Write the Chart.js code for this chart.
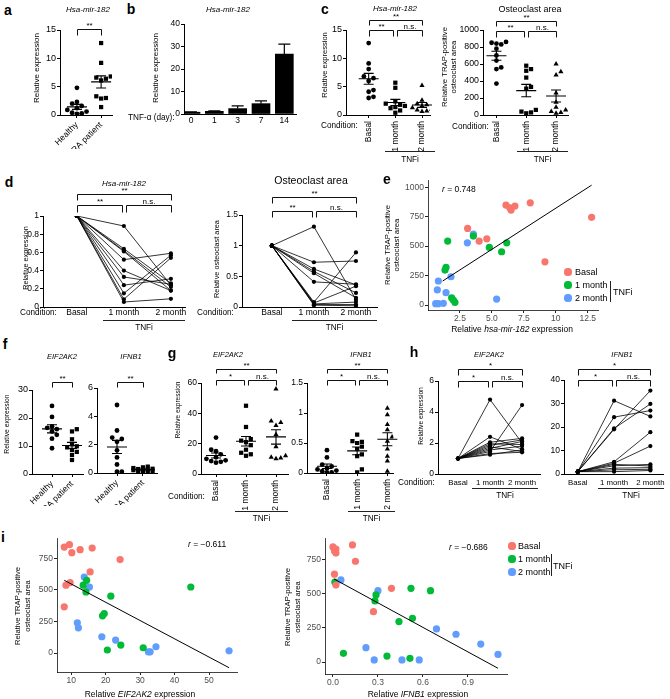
<!DOCTYPE html>
<html>
<head>
<meta charset="utf-8">
<title>miR-182 / TNFi figure</title>
<script src="https://cdn.jsdelivr.net/npm/chart.js@4.4.1/dist/chart.umd.min.js"></script>
<style>
  body { margin: 0; width: 670px; height: 699px; position: relative; overflow: hidden; background: #fff;
         font-family: "Liberation Sans", Arial, sans-serif; color: #000; }
  canvas { position: absolute; }
  .lbl { position: absolute; white-space: nowrap; line-height: 1; }
  .rule { position: absolute; background: #222; }
  .dot { position: absolute; border-radius: 50%; }
</style>
</head>
<body>
<script>
// ---------------- data ----------------

// a: Hsa-mir-182, healthy vs RA
const aGroups = ['Healthy', 'RA patient']
const aHealthy = [4.8, 2.3, 2.0, 1.6, 1.2, 0.9, 0.6, 0.4, 0.2, 0.3]
const aRA = [12.7, 9.2, 6.8, 6.6, 6.4, 6.1, 3.3, 3.0, 2.9, 1.4]

// b: TNF-alpha time course
const bDays = ['0', '1', '3', '7', '14']
const bMean = [0.8, 1.2, 2.4, 4.6, 26.6]
const bSem = [0.15, 0.25, 1.2, 1.2, 4.5]

// c: basal vs TNFi
const conditions = ['Basal', '1 month', '2 month']
const cMirBasal = [12.7, 9.1, 8.1, 6.8, 6.5, 6.0, 4.4, 4.1, 3.2, 3.0]
const cMir1m = [5.7, 4.8, 2.4, 2.0, 1.8, 1.6, 1.4, 1.2, 0.8, 0.4]
const cMir2m = [5.2, 2.6, 2.0, 1.8, 1.6, 1.3, 1.0, 0.9, 0.7, 0.6]
const cOcBasal = [860, 850, 840, 830, 780, 700, 640, 560, 540, 370]
const cOc1m = [580, 540, 520, 440, 330, 310, 60, 40, 30, 20]
const cOc2m = [600, 510, 470, 260, 150, 90, 60, 40, 30, 20]

// d: paired, normalised to basal = 1
const dMir1m = [0.89, 0.64, 0.62, 0.61, 0.52, 0.40, 0.33, 0.24, 0.15, 0.085, 0.055]
const dMir2m = [0.24, 0.26, 0.22, 0.18, 0.59, 0.18, 0.25, 0.31, 0.57, 0.54, 0.09]
const dOc1m = [1.31, 0.73, 0.62, 0.58, 0.55, 0.41, 0.08, 0.065, 0.05, 0.04, 0.03]
const dOc2m = [0.12, 0.75, 0.36, 0.23, 0.15, 0.37, 0.89, 0.34, 0.08, 0.04, 0.02]

// e: correlation miR-182 vs osteoclast area
const eBasalX = [6.1, 6.4, 6.5, 6.8, 8.0, 12.8, 3.1, 4.0, 4.6, 9.15]
const eBasalY = [848, 825, 806, 840, 867, 744, 650, 543, 562, 367]
const e1mX = [1.54, 3.55, 4.8, 6.16, 5.76, 1.41, 1.33, 1.85, 1.98, 2.11]
const e1mY = [543, 585, 489, 528, 452, 320, 297, 62, 43, 23]
const e2mX = [3.55, 3.08, 0.81, 1.8, 0.73, 1.41, 0.6, 0.8, 1.2, 5.37]
const e2mY = [602, 528, 204, 240, 128, 105, 12, 12, 15, 51]
const eFitX = [1.15, 12.8]
const eFitY = [204, 1017]

// f: healthy vs RA
const fEifHealthy = [24.3, 20.4, 17.0, 16.5, 16.0, 15.2, 14.0, 12.6, 9.2]
const fEifRA = [16.0, 15.2, 12.4, 10.6, 9.9, 9.5, 8.6, 7.9, 6.8, 5.0]
const fIfnHealthy = [4.8, 3.0, 2.5, 2.4, 2.2, 1.6, 1.1, 0.6, 0.1, 0.1]
const fIfnRA = [0.45, 0.4, 0.35, 0.3, 0.28, 0.25, 0.22, 0.2, 0.15, 0.12, 0.1, 0.08]

// g: basal vs TNFi
const gEifBasal = [24, 16, 15, 13, 11, 10, 9, 8.5, 8, 7.5]
const gEif1m = [45, 31, 23, 22, 21, 19, 16, 14, 13, 12]
const gEif2m = [56, 35, 34, 32, 26, 18, 12, 11, 10.5, 10]
const gIfnBasal = [0.38, 0.26, 0.14, 0.11, 0.08, 0.06, 0.04, 0.03, 0.01, 0.01]
const gIfn1m = [0.64, 0.53, 0.52, 0.50, 0.44, 0.40, 0.31, 0.28, 0.06, 0.01]
const gIfn2m = [1.08, 0.97, 0.81, 0.72, 0.6, 0.53, 0.4, 0.28, 0.2, 0.03]

// h: paired, basal = 1
const hEif1m = [4.8, 2.4, 2.05, 1.95, 1.85, 1.75, 1.65, 1.55, 1.45, 1.32, 1.25]
const hEif2m = [2.0, 1.6, 2.3, 1.9, 2.2, 1.45, 2.1, 1.8, 4.45, 1.4, 1.55]
const hIfn1m = [31.2, 24.2, 19.0, 19.4, 5.2, 4.6, 4.1, 3.5, 2.5, 1.8, 1.0]
const hIfn2m = [24.5, 27.0, 35.5, 29.8, 17.8, 11.9, 3.4, 4.1, 2.7, 2.0, 1.5]

// i: correlations with osteoclast area
const iEifBasalX = [8.0, 9.5, 10.2, 12.6, 16.1, 24.2, 15.5, 8.5, 9.7, 8.0]
const iEifBasalY = [839, 858, 795, 818, 831, 740, 642, 537, 558, 366]
const iEif1mX = [13.5, 14.5, 14.3, 21.5, 19.1, 19.6, 20.5, 24.4, 30.9, 44.7]
const iEif1mY = [537, 576, 484, 450, 295, 313, 24, 63, 42, 523]
const iEif2mX = [13.8, 15.3, 11.8, 12.1, 18.9, 22.9, 32.4, 32.9, 34.6, 55.8]
const iEif2mY = [602, 523, 239, 200, 129, 103, 10, 10, 50, 18]
const iEifFitX = [8.0, 55.8]
const iEifFitY = [576, -116]

const iIfnBasalX = [0.0, 0.02, 0.01, 0.02, 0.13, 0.15, 0.01, 0.02, 0.39, 0.27]
const iIfnBasalY = [845, 830, 815, 800, 860, 740, 645, 565, 541, 370]
const iIfn1mX = [0.013, 0.52, 0.65, 0.287, 0.28, 0.44, 0.53, 0.07, 0.36, 0.513]
const iIfn1mY = [586, 541, 524, 493, 449, 297, 321, 64, 44, 27]
const iIfn2mX = [0.053, 0.30, 0.69, 0.82, 0.985, 1.1, 0.22, 0.275, 0.46, 0.575]
const iIfn2mY = [603, 524, 243, 204, 132, 56, 105, 15, 15, 15]
const iIfnFitX = [0.007, 1.1]
const iIfnFitY = [610, -46]

// ---------------- setup ----------------
const FONT = '"Liberation Sans", Arial, sans-serif'
Chart.defaults.font.family = FONT
Chart.defaults.font.size = 8.5
Chart.defaults.color = '#000'

const RED = '#F8766D', GREEN = '#00BA38', BLUE = '#619CFF'
const fmt = v => String(Math.round(v * 1000) / 1000)

// simple beeswarm: horizontal offsets so dots with close values don't sit on top of each other
function swarm(vals, pxY, pxX, d, maxOff) {
  const off = vals.map(() => 0), placed = []
  const order = vals.map((v, i) => i).sort((p, q) => vals[p] - vals[q])
  const steps = [0]
  for (let k = 1; k * d <= maxOff + 0.01; k++) steps.push(k * d, -k * d)
  for (const i of order) {
    const py = vals[i] * pxY
    let best = 0, bestDist = -1
    for (const sx of steps) {
      let m = Infinity
      for (const p of placed) m = Math.min(m, Math.hypot(p[0] - sx, p[1] - py))
      if (m >= d) { best = sx; break }
      if (m > bestDist) { bestDist = m; best = sx }
    }
    placed.push([best, py])
    off[i] = best / pxX
  }
  return off
}

function prismY(min, max, step, size) {
  return {
    type: 'linear', min, max,
    ticks: { stepSize: step, padding: 1, callback: fmt, font: { size: size || 8.5 } },
    grid: { drawOnChartArea: false, tickLength: 3, color: '#000' },
    border: { color: '#000' }
  }
}

function catX(cats, min, max, rot, tick, pad, size) {
  return {
    type: 'linear', min, max, offset: false,
    afterBuildTicks: s => { s.ticks = cats.map((c, i) => ({ value: i })) },
    ticks: { autoSkip: false, minRotation: rot, maxRotation: rot, padding: pad, callback: v => cats[v], font: { size: size || 8.5 } },
    grid: { drawOnChartArea: false, drawTicks: tick > 0, tickLength: tick, color: '#000', offset: false },
    border: { color: '#000' }
  }
}

function gAxis(min, max, vals, labels) {
  return {
    type: 'linear', min, max,
    afterBuildTicks: s => { s.ticks = vals.map(v => ({ value: v })) },
    ticks: { padding: 1, color: '#4d4d4d', callback: v => labels[vals.indexOf(v)] },
    grid: { drawOnChartArea: false, tickLength: 3, color: '#222' },
    border: { color: '#111', width: 0.8 }
  }
}

function dotSets(groups, styles, box, xr, yr) {
  const pxX = (box[2] - box[0]) / (xr[1] - xr[0]), pxY = (box[3] - box[1]) / (yr[1] - yr[0])
  return groups.map((vals, gi) => {
    const off = swarm(vals, pxY, pxX, 4.8, 10)
    return {
      data: vals.map((v, k) => ({ x: gi + off[k], y: v })),
      pointStyle: styles[gi], pointRadius: styles[gi] === 'circle' ? 2.4 : 3,
      backgroundColor: '#000', borderWidth: 0
    }
  })
}

function pairSets(m1, m2) {
  return m1.map((v, k) => ({
    data: [{ x: 0, y: 1 }, { x: 1, y: v }, { x: 2, y: m2[k] }],
    showLine: true, borderColor: '#000', borderWidth: 0.8,
    pointRadius: 2.1, backgroundColor: '#000', pointBorderWidth: 0
  }))
}

function groupSet(xs, ys, color) {
  return { data: xs.map((x, k) => ({ x, y: ys[k] })), backgroundColor: color, pointRadius: 3.6, borderWidth: 0 }
}

function fitSet(xs, ys) {
  return { data: xs.map((x, k) => ({ x, y: ys[k] })), showLine: true, borderColor: '#000', borderWidth: 1, pointRadius: 0 }
}

// significance brackets, y in page pixels
function bracketPlugin(items, ct) {
  return {
    id: 'brackets',
    afterDraw(chart) {
      const ctx = chart.ctx, xs = chart.scales.x
      ctx.save()
      ctx.strokeStyle = '#111'; ctx.lineWidth = 1; ctx.fillStyle = '#000'
      ctx.font = '8px ' + FONT; ctx.textAlign = 'center'; ctx.textBaseline = 'alphabetic'
      for (const it of items) {
        const xa = Math.round(xs.getPixelForValue(it.from) + (it.ia || 0)) + 0.5
        const xb = Math.round(xs.getPixelForValue(it.to) + (it.ib || 0)) + 0.5
        const y = Math.round(it.y - ct) + 0.5, y2 = y + (it.leg || 6)
        ctx.beginPath(); ctx.moveTo(xa, y2); ctx.lineTo(xa, y); ctx.lineTo(xb, y); ctx.lineTo(xb, y2); ctx.stroke()
        ctx.fillText(it.text, (xa + xb) / 2, y - 2)
      }
      ctx.restore()
    }
  }
}

// mean +/- SEM for dot plots
function semPlugin(groups, half, cap) {
  return {
    id: 'sem',
    afterDatasetsDraw(chart) {
      const ctx = chart.ctx, xs = chart.scales.x, ys = chart.scales.y
      ctx.save(); ctx.strokeStyle = '#000'; ctx.lineWidth = 1.1
      groups.forEach((vals, i) => {
        const n = vals.length, m = vals.reduce((s, v) => s + v, 0) / n
        const se = Math.sqrt(vals.reduce((s, v) => s + (v - m) ** 2, 0) / (n - 1)) / Math.sqrt(n)
        const x = xs.getPixelForValue(i)
        const ym = ys.getPixelForValue(m), yt = ys.getPixelForValue(m + se), yb = ys.getPixelForValue(m - se)
        ctx.beginPath()
        ctx.moveTo(x - half, ym); ctx.lineTo(x + half, ym)
        ctx.moveTo(x, yb); ctx.lineTo(x, yt)
        ctx.moveTo(x - cap, yt); ctx.lineTo(x + cap, yt)
        ctx.moveTo(x - cap, yb); ctx.lineTo(x + cap, yb)
        ctx.stroke()
      })
      ctx.restore()
    }
  }
}

// upper error bars for the bar chart
function errPlugin(means, errs) {
  return {
    id: 'err',
    afterDatasetsDraw(chart) {
      const ctx = chart.ctx, xs = chart.scales.x, ys = chart.scales.y
      ctx.save(); ctx.strokeStyle = '#000'; ctx.lineWidth = 1.2
      means.forEach((m, i) => {
        const x = xs.getPixelForValue(i), y0 = ys.getPixelForValue(m), y1 = ys.getPixelForValue(m + errs[i])
        ctx.beginPath(); ctx.moveTo(x, y0); ctx.lineTo(x, y1); ctx.moveTo(x - 6, y1); ctx.lineTo(x + 6, y1); ctx.stroke()
      })
      ctx.restore()
    }
  }
}

// one canvas per plot; box = chart area in page pixels
function panel(p) {
  const pad = Object.assign({ top: 14, right: 10, bottom: 3, left: 0 }, p.pad || {})
  const [l, t, r, b] = p.box
  const cl = l - p.yw - pad.left, ct = t - pad.top
  const w = Math.round(r + pad.right - cl), h = Math.round(b + p.xh + pad.bottom - ct)
  const cv = document.createElement('canvas')
  cv.width = w; cv.height = h
  cv.style.left = cl + 'px'; cv.style.top = ct + 'px'
  cv.style.width = w + 'px'; cv.style.height = h + 'px'
  document.body.appendChild(cv)
  p.x.afterFit = s => { s.height = p.xh }
  p.y.afterFit = s => { s.width = p.yw }
  const plugins = (p.plugins || []).slice()
  if (p.brackets) plugins.push(bracketPlugin(p.brackets, ct))
  return new Chart(cv, {
    type: p.type || 'scatter',
    data: { datasets: p.datasets },
    options: {
      responsive: false, animation: false, devicePixelRatio: 1,
      layout: { padding: pad },
      plugins: { legend: { display: false }, tooltip: { enabled: false } },
      scales: { x: p.x, y: p.y }
    },
    plugins
  })
}

function text(s, x, y, size, style, anchor) {
  const d = document.createElement('div')
  d.className = 'lbl'
  d.innerHTML = s
  d.style.left = x + 'px'; d.style.top = y + 'px'; d.style.fontSize = size + 'px'
  if (style) d.style.cssText += style
  d.style.transform = anchor === 'left' ? 'translate(0,-50%)' : 'translate(-50%,-50%)'
  document.body.appendChild(d)
}
function yTitle(lines, x, y, size, gap) {
  const d = document.createElement('div')
  d.className = 'lbl'
  d.innerHTML = lines.join('<br>')
  d.style.cssText += `left:${x}px;top:${y}px;font-size:${size}px;line-height:${gap}px;text-align:center;transform:translate(-50%,-50%) rotate(-90deg)`
  document.body.appendChild(d)
}
function rule(x, y, w, h) {
  const d = document.createElement('div')
  d.className = 'rule'
  d.style.cssText += `left:${x}px;top:${y}px;width:${w}px;height:${h}px`
  document.body.appendChild(d)
}
function dot(x, y, r, color) {
  const d = document.createElement('div')
  d.className = 'dot'
  d.style.cssText += `left:${x - r}px;top:${y - r}px;width:${2 * r}px;height:${2 * r}px;background:${color}`
  document.body.appendChild(d)
}

// ---------------- panels ----------------
const SHAPES = ['circle', 'rect', 'triangle']

// a
{
  const box = [60, 30, 112, 115], xr = [-0.7, 1.45], yr = [0, 15]
  const groups = [aHealthy, aRA]
  panel({
    box, yw: 26, xh: 34, pad: { top: 10, right: 6 },
    x: catX(aGroups, xr[0], xr[1], 45, 3, 2), y: prismY(0, 15, 5, 9),
    datasets: dotSets(groups, ['circle', 'rect'], box, xr, yr),
    plugins: [semPlugin(groups, 10, 5)],
    brackets: [{ from: 0, to: 1, y: 29, leg: 6, text: '**' }]
  })
}

// b
panel({
  box: [184, 24, 296, 114], yw: 24, xh: 14, pad: { top: 8, right: 6 }, type: 'bar',
  x: catX(bDays, -0.3, 4.5, 0, 0, 2),
  y: prismY(0, 40, 10),
  datasets: [{ data: bMean.map((v, i) => ({ x: i, y: v })), backgroundColor: '#000', barThickness: 18, borderWidth: 0 }],
  plugins: [errPlugin(bMean, bSem)]
})

// c left
{
  const box = [346, 30, 430, 115], xr = [-0.85, 2.3], yr = [0, 15]
  const groups = [cMirBasal, cMir1m, cMir2m]
  panel({
    box, yw: 24, xh: 38, pad: { top: 18, right: 8 },
    x: catX(conditions, xr[0], xr[1], 90, 3, 3), y: prismY(0, 15, 5, 9),
    datasets: dotSets(groups, SHAPES, box, xr, yr),
    plugins: [semPlugin(groups, 10, 5)],
    brackets: [
      { from: 0, to: 2, y: 20, leg: 5, text: '**' },
      { from: 0, to: 1, y: 30, leg: 6, text: '**', ib: -2 },
      { from: 1, to: 2, y: 30, leg: 6, text: 'n.s.', ia: 2 }
    ]
  })
}

// c right
{
  const box = [483, 30, 568, 115], xr = [-0.45, 2.4], yr = [0, 1000]
  const groups = [cOcBasal, cOc1m, cOc2m]
  panel({
    box, yw: 26, xh: 38, pad: { top: 18, right: 6 },
    x: catX(conditions, xr[0], xr[1], 90, 3, 3), y: prismY(0, 1000, 200, 8.8),
    datasets: dotSets(groups, SHAPES, box, xr, yr),
    plugins: [semPlugin(groups, 10, 5)],
    brackets: [
      { from: 0, to: 2, y: 21, leg: 5, text: '**' },
      { from: 0, to: 1, y: 31, leg: 6, text: '**', ib: -2 },
      { from: 1, to: 2, y: 31, leg: 6, text: 'n.s.', ia: 2 }
    ]
  })
}

// d left
panel({
  box: [43, 216, 185, 307], yw: 22, xh: 14, pad: { top: 34, right: 8 },
  x: catX(conditions, -0.72, 2.3, 0, 0, 1), y: prismY(0, 1, 0.2),
  datasets: pairSets(dMir1m, dMir2m),
  brackets: [
    { from: 0, to: 2, y: 194, leg: 6, text: '**' },
    { from: 0, to: 1, y: 205, leg: 7, text: '**', ib: -2 },
    { from: 1, to: 2, y: 205, leg: 7, text: 'n.s.', ia: 2 }
  ]
})

// d right
panel({
  box: [242, 215, 377, 307], yw: 22, xh: 14, pad: { top: 30, right: 8 },
  x: catX(conditions, -0.71, 2.5, 0, 0, 1), y: prismY(0, 1.5, 0.5),
  datasets: pairSets(dOc1m, dOc2m),
  brackets: [
    { from: 0, to: 2, y: 197, leg: 6, text: '**' },
    { from: 0, to: 1, y: 211, leg: 6, text: '**', ib: -2 },
    { from: 1, to: 2, y: 211, leg: 6, text: 'n.s.', ia: 2 }
  ]
})

// e
panel({
  box: [428, 180, 598, 310], yw: 26, xh: 14, pad: { top: 6, right: 10 },
  x: gAxis(0, 13.3, [2.5, 5, 7.5, 10, 12.5], ['2.5', '5.0', '7.5', '10', '12.5']),
  y: gAxis(-42, 1060, [0, 250, 500, 750, 1000], ['0', '250', '500', '750', '1000']),
  datasets: [fitSet(eFitX, eFitY), groupSet(eBasalX, eBasalY, RED), groupSet(e1mX, e1mY, GREEN), groupSet(e2mX, e2mY, BLUE)]
})

// f left
{
  const box = [32, 390, 83, 474], xr = [-1.0, 1.55], yr = [0, 30]
  const groups = [fEifHealthy, fEifRA]
  panel({
    box, yw: 22, xh: 32, pad: { top: 14, right: 8 },
    x: catX(aGroups, xr[0], xr[1], 45, 3, 2), y: prismY(0, 30, 10, 9),
    datasets: dotSets(groups, ['circle', 'rect'], box, xr, yr),
    plugins: [semPlugin(groups, 10, 5)],
    brackets: [{ from: 0, to: 1, y: 382, leg: 5, text: '**' }]
  })
}

// f right
{
  const box = [97, 388, 157, 473], xr = [-0.77, 1.54], yr = [0, 6]
  const groups = [fIfnHealthy, fIfnRA]
  panel({
    box, yw: 16, xh: 32, pad: { top: 12, right: 8 },
    x: catX(aGroups, xr[0], xr[1], 45, 3, 2), y: prismY(0, 6, 2, 9),
    datasets: dotSets(groups, ['circle', 'rect'], box, xr, yr),
    plugins: [semPlugin(groups, 10, 5)],
    brackets: [{ from: 0, to: 1, y: 382, leg: 5, text: '**' }]
  })
}

// g left
{
  const box = [201, 383, 288, 474], xr = [-0.5, 2.4], yr = [0, 60]
  const groups = [gEifBasal, gEif1m, gEif2m]
  panel({
    box, yw: 20, xh: 38, pad: { top: 26, right: 6 },
    x: catX(conditions, xr[0], xr[1], 90, 3, 3), y: prismY(0, 60, 20),
    datasets: dotSets(groups, SHAPES, box, xr, yr),
    plugins: [semPlugin(groups, 10, 5)],
    brackets: [
      { from: 0, to: 2, y: 369, leg: 4, text: '**' },
      { from: 0, to: 1, y: 380, leg: 5, text: '*', ib: -2 },
      { from: 1, to: 2, y: 380, leg: 5, text: 'n.s.', ia: 2 }
    ]
  })
}

// g right
{
  const box = [307, 383, 395, 473], xr = [-0.66, 2.2], yr = [0, 1.5]
  const groups = [gIfnBasal, gIfn1m, gIfn2m]
  panel({
    box, yw: 20, xh: 38, pad: { top: 26, right: 6 },
    x: catX(conditions, xr[0], xr[1], 90, 3, 3), y: prismY(0, 1.5, 0.5),
    datasets: dotSets(groups, SHAPES, box, xr, yr),
    plugins: [semPlugin(groups, 10, 5)],
    brackets: [
      { from: 0, to: 2, y: 369, leg: 4, text: '**' },
      { from: 0, to: 1, y: 380, leg: 5, text: '*', ib: -2 },
      { from: 1, to: 2, y: 380, leg: 5, text: 'n.s.', ia: 2 }
    ]
  })
}

// h left
panel({
  box: [438, 381, 540, 474], yw: 20, xh: 14, pad: { top: 24, right: 6 },
  x: catX(conditions, -0.625, 2.56, 0, 0, 4, 7.8), y: prismY(0, 6, 2),
  datasets: pairSets(hEif1m, hEif2m),
  brackets: [
    { from: 0, to: 2, y: 369, leg: 6, text: '*' },
    { from: 0, to: 1, y: 381, leg: 6, text: '*', ib: -2 },
    { from: 1, to: 2, y: 381, leg: 6, text: 'n.s.', ia: 2 }
  ]
})

// h right
panel({
  box: [564, 380, 665, 474], yw: 20, xh: 14, pad: { top: 23, right: 4 },
  x: catX(conditions, -0.38, 2.37, 0, 0, 4, 7.8), y: prismY(0, 40, 10),
  datasets: pairSets(hIfn1m, hIfn2m),
  brackets: [
    { from: 0, to: 2, y: 369, leg: 6, text: '*' },
    { from: 0, to: 1, y: 380, leg: 6, text: '*', ib: -2 },
    { from: 1, to: 2, y: 380, leg: 6, text: 'n.s.', ia: 2 }
  ]
})

// i left
panel({
  box: [57, 538, 237, 672], yw: 26, xh: 14, pad: { top: 6, right: 8 },
  x: gAxis(5.9, 58.1, [10, 20, 30, 40, 50], ['10', '20', '30', '40', '50']),
  y: gAxis(-150, 910, [0, 250, 500, 750], ['0', '250', '500', '750']),
  datasets: [fitSet(iEifFitX, iEifFitY), groupSet(iEifBasalX, iEifBasalY, RED), groupSet(iEif1mX, iEif1mY, GREEN), groupSet(iEif2mX, iEif2mY, BLUE)]
})

// i right
panel({
  box: [325, 538, 507, 674], yw: 26, xh: 14, pad: { top: 6, right: 8 },
  x: gAxis(-0.053, 1.16, [0, 0.3, 0.6, 0.9], ['0.0', '0.3', '0.6', '0.9']),
  y: gAxis(-88, 910, [0, 250, 500, 750], ['0', '250', '500', '750']),
  datasets: [fitSet(iIfnFitX, iIfnFitY), groupSet(iIfnBasalX, iIfnBasalY, RED), groupSet(iIfn1mX, iIfn1mY, GREEN), groupSet(iIfn2mX, iIfn2mY, BLUE)]
})

// ---------------- text, rules, legends ----------------
const B = 'font-weight:bold;', I = 'font-style:italic;'
text('a', 8, 10, 14, B); text('b', 131, 9, 14, B); text('c', 325, 9, 14, B)
text('d', 9, 182, 14, B); text('e', 387, 179, 14, B); text('f', 5, 344, 14, B)
text('g', 172, 353, 14, B); text('h', 414, 352, 14, B); text('i', 3, 537, 14, B)

text('Hsa-mir-182', 88, 10, 8, I); text('Hsa-mir-182', 228, 10, 8, I); text('Hsa-mir-182', 395, 9, 8, I)
text('Osteoclast area', 530, 9, 9)
text('Hsa-mir-182', 124, 184, 8, I); text('Osteoclast area', 311, 180, 10.5)
text('EIF2AK2', 62, 357, 7.5, I); text('IFNB1', 131, 357, 7.5, I)
text('EIF2AK2', 228, 355, 7.5, I); text('IFNB1', 361, 355, 7.5, I)
text('EIF2AK2', 489, 355, 7.5, I); text('IFNB1', 622, 355, 7.5, I)

yTitle(['Relative expression'], 36, 68, 8, 9)
yTitle(['Relative expression'], 155, 68, 8, 9)
yTitle(['Relative expression'], 324, 65, 7.5, 9)
yTitle(['Relative TRAP-positive', 'osteoclast area'], 448.5, 67, 7.8, 9)
yTitle(['Relative expression'], 25, 258, 7.3, 9)
yTitle(['Relative osteoclast area'], 216, 259, 7.3, 9)
yTitle(['Relative TRAP-positive', 'osteoclast area'], 391.5, 245, 7.8, 9)
yTitle(['Relative expression'], 5.5, 424, 6.8, 9)
yTitle(['Relative expression'], 177, 410, 6.5, 9)
yTitle(['Relative expression'], 420, 416, 6.6, 9)
yTitle(['Relative TRAP-positive', 'osteoclast area'], 23, 606, 7.6, 10)
yTitle(['Relative TRAP-positive', 'osteoclast area'], 293, 607, 7.6, 10)

text('TNF-α (day):', 128, 118, 8.2, '', 'left')
text('Condition:', 321, 126, 8.2, '', 'left'); text('Condition:', 452, 127, 8.2, '', 'left')
text('Condition:', 20, 313, 8.2, '', 'left'); text('Condition:', 197, 313, 8.2, '', 'left')
text('Condition:', 168, 497, 8.2, '', 'left'); text('Condition:', 398, 483, 8.2, '', 'left')

const tnfi = [[385, 435, 151, 160], [517, 568, 151, 160], [103, 185, 320, 328], [292, 377, 320, 328],
              [235, 288, 511, 519], [348, 395, 511, 519], [472, 538, 488, 496], [598, 664, 488, 496]]
tnfi.forEach(([x1, x2, y, ty]) => { rule(x1, y, x2 - x1, 1); text('TNFi', (x1 + x2) / 2, ty, 8.2) })

// e legend and labels
text('<i>r</i> = 0.748', 442, 189, 8.5, '', 'left')
text('Relative <i>hsa-mir-182</i> expression', 512, 329, 8.5)
;[['Basal', RED, 272], ['1 month', GREEN, 285], ['2 month', BLUE, 298]].forEach(([s, c, y]) => {
  dot(568, y, 3.6, c); text(s, 575, y, 9, '', 'left')
})
rule(610, 281, 1, 21); text('TNFi', 613, 292, 9, '', 'left')

// i legend and labels
text('<i>r</i> = −0.611', 188, 544, 8.5, '', 'left')
text('<i>r</i> = −0.686', 449, 547, 8.5, '', 'left')
text('Relative <i>EIF2AK2</i> expression', 140, 694, 8.5)
text('Relative <i>IFNB1</i> expression', 418, 694, 8.5)
;[['Basal', RED, 546], ['1 month', GREEN, 559], ['2 month', BLUE, 572]].forEach(([s, c, y]) => {
  dot(512, y, 3.6, c); text(s, 518, y, 9, '', 'left')
})
rule(551, 554, 1, 22); text('TNFi', 553, 566, 9, '', 'left')
</script>
</body>
</html>
